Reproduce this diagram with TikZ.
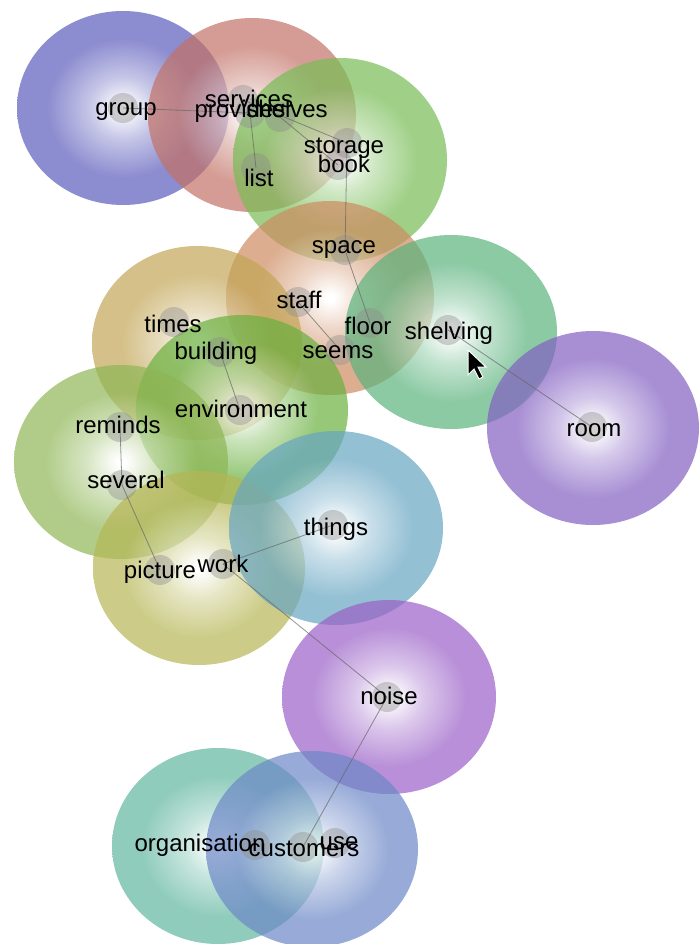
\documentclass[tikz,border=0pt]{standalone}
\usepackage{fontspec}
\newfontfamily\termfont{Liberation Sans}
\usetikzlibrary{backgrounds}

\definecolor{cGroup}{RGB}{91,91,188}
\definecolor{cProvides}{RGB}{194,114,102}
\definecolor{cStorage}{RGB}{119,188,85}
\definecolor{cSpace}{RGB}{205,139,96}
\definecolor{cTimes}{RGB}{194,165,85}
\definecolor{cBuilding}{RGB}{105,176,62}
\definecolor{cShelving}{RGB}{91,179,125}
\definecolor{cRoom}{RGB}{131,96,194}
\definecolor{cReminds}{RGB}{142,182,85}
\definecolor{cPicture}{RGB}{182,182,85}
\definecolor{cThings}{RGB}{102,165,194}
\definecolor{cNoise}{RGB}{154,96,199}
\definecolor{cOrganisation}{RGB}{96,182,159}
\definecolor{cCustomers}{RGB}{108,136,199}

\colorlet{blobc}{gray}
\pgfdeclareradialshading[blobc]{blobshade}{\pgfpoint{0bp}{0bp}}{%
  color(0bp)=(white); color(1bp)=(white); color(8bp)=(blobc!50!white);
  color(18bp)=(blobc); color(25bp)=(blobc); color(50bp)=(blobc)}

\begin{document}
\begin{tikzpicture}[x=1pt,y=-1pt,
        blob/.style={/utils/exec={\colorlet{blobc}{#1}},shading=blobshade,opacity=.7},
        dot/.style={circle,minimum size=30pt,inner sep=0pt,fill=black!45,fill opacity=.4},
        term/.style={inner sep=0pt,text height=17pt,text depth=5pt,text=black,
          font=\termfont\fontsize{24}{24}\selectfont},
        link/.style={draw=black!60,line width=.8pt,opacity=.7}]

        \useasboundingbox (0,0) rectangle (699,944);

        % term dots
        \node [dot] (group)        at (123,108) {};
        \node [dot] (services)     at (243,100) {};
        \node [dot] (provides)     at (250,113) {};
        \node [dot] (shelves)      at (280,117) {};
        \node [dot] (list)         at (256,168) {};
        \node [dot] (storage)      at (347,143) {};
        \node [dot] (book)         at (338,165) {};
        \node [dot] (space)        at (345,250) {};
        \node [dot] (staff)        at (298,302) {};
        \node [dot] (floor)        at (370,323) {};
        \node [dot] (seems)        at (340,350) {};
        \node [dot] (shelving)     at (448,330) {};
        \node [dot] (room)         at (592,427) {};
        \node [dot] (times)        at (174,322) {};
        \node [dot] (building)     at (220,352) {};
        \node [dot] (environment)  at (240,410) {};
        \node [dot] (reminds)      at (120,427) {};
        \node [dot] (several)      at (122,485) {};
        \node [dot] (things)       at (333,525) {};
        \node [dot] (work)         at (223,564) {};
        \node [dot] (picture)      at (160,570) {};
        \node [dot] (noise)        at (387,697) {};
        \node [dot] (organisation) at (255,845) {};
        \node [dot] (customers)    at (303,847) {};
        \node [dot] (use)          at (335,843) {};

        \path [link]
          (group.center)    edge (provides.center)
          (provides.center) edge (list.center)
          (services.center) edge (storage.center)
          (shelves.center)  edge (book.center)
          (storage.center)  edge (space.center)
          (space.center)    edge (floor.center)
          (staff.center)    edge (seems.center)
          (building.center) edge (environment.center)
          (shelving.center) edge (room.center)
          (reminds.center)  edge (several.center)
          (several.center)  edge (picture.center)
          (work.center)     edge (things.center)
          (work.center)     edge (noise.center)
          (noise.center)    edge (customers.center)
        ;

        % term labels
        \node [term] (l-group)        at (126,110) {group};
        \node [term] (l-services)     at (249,102) {services};
        \node [term] (l-provides)     at (240,112) {provides};
        \node [term] (l-shelves)      at (287,112) {shelves};
        \node [term] (l-list)         at (259,180) {list};
        \node [term] (l-storage)      at (344,148) {storage};
        \node [term] (l-book)         [below of=l-storage,node distance=19pt] {book};
        \node [term] (l-space)        at (344,247) {space};
        \node [term] (l-staff)        at (299,302) {staff};
        \node [term] (l-floor)        at (368,328) {floor};
        \node [term] (l-seems)        at (338,352) {seems};
        \node [term] (l-shelving)     at (449,333) {shelving};
        \node [term] (l-room)         at (594,430) {room};
        \node [term] (l-times)        at (173,326) {times};
        \node [term] (l-building)     at (216,353) {building};
        \node [term] (l-environment)  at (241,411) {environment};
        \node [term] (l-reminds)      at (118,427) {reminds};
        \node [term] (l-several)      at (126,482) {several};
        \node [term] (l-things)       at (336,529) {things};
        \node [term] (l-work)         at (223,566) {work};
        \node [term] (l-picture)      at (160,572) {picture};
        \node [term] (l-noise)        at (389,698) {noise};
        \node [term] (l-organisation) at (200,845) {organisation};
        \node [term] (l-customers)    at (304,850) {customers};
        \node [term] (l-use)          at (339,843) {use};

        % mouse pointer
        \filldraw [fill=black,draw=white,line width=1pt]
          (468,350) -- ++(0,25) -- ++(6,-6) -- ++(5,10) -- ++(4,-2) -- ++(-5,-10) -- ++(8,0) -- cycle;

        \begin{pgfonlayer}{background}
          \shade [blob=cGroup]        (123,108) ellipse [x radius=106pt,y radius=97pt];
          \shade [blob=cProvides]     (252,115) ellipse [x radius=104pt,y radius=97pt];
          \shade [blob=cStorage]      (340,160) ellipse [x radius=107pt,y radius=102pt];
          \shade [blob=cSpace]        (330,298) ellipse [x radius=104pt,y radius=97pt];
          \shade [blob=cTimes]        (197,343) ellipse [x radius=105pt,y radius=97pt];
          \shade [blob=cBuilding]     (242,410) ellipse [x radius=106pt,y radius=95pt];
          \shade [blob=cShelving]     (451,332) ellipse [x radius=106pt,y radius=97pt];
          \shade [blob=cRoom]         (593,428) ellipse [x radius=106pt,y radius=97pt];
          \shade [blob=cReminds]      (121,462) ellipse [x radius=107pt,y radius=97pt];
          \shade [blob=cPicture]      (199,568) ellipse [x radius=106pt,y radius=97pt];
          \shade [blob=cThings]       (336,528) ellipse [x radius=107pt,y radius=97pt];
          \shade [blob=cNoise]        (389,697) ellipse [x radius=107pt,y radius=97pt];
          \shade [blob=cOrganisation] (218,846) ellipse [x radius=106pt,y radius=98pt];
          \shade [blob=cCustomers]    (312,849) ellipse [x radius=106pt,y radius=98pt];
        \end{pgfonlayer}
      \end{tikzpicture}
\end{document}
